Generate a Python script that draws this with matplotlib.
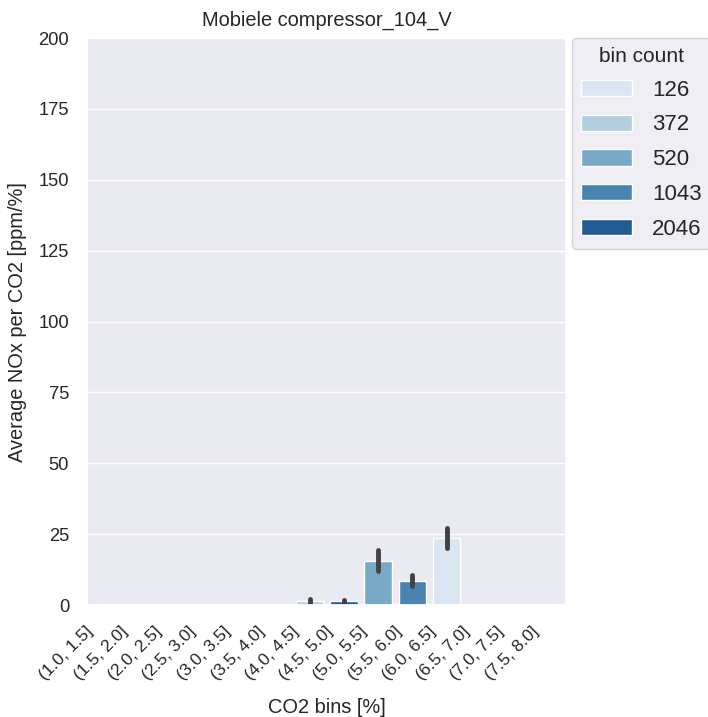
import numpy as np
import matplotlib
matplotlib.use("Agg")
import matplotlib.pyplot as plt
import matplotlib.patches as mpatches
import matplotlib.transforms as mtransforms
import seaborn as sns

# CO2 bins and per-bin average NOx/CO2 (empty bins have no data)
bins = ["(1.0, 1.5]", "(1.5, 2.0]", "(2.0, 2.5]", "(2.5, 3.0]", "(3.0, 3.5]",
        "(3.5, 4.0]", "(4.0, 4.5]", "(4.5, 5.0]", "(5.0, 5.5]", "(5.5, 6.0]",
        "(6.0, 6.5]", "(6.5, 7.0]", "(7.0, 7.5]", "(7.5, 8.0]"]
bar_bins = ["(4.0, 4.5]", "(4.5, 5.0]", "(5.0, 5.5]", "(5.5, 6.0]", "(6.0, 6.5]"]
bar_means = [1.4, 1.3, 15.4, 8.4, 23.8]
ci_low = [0.9, 0.8, 12.1, 6.8, 20.2]
ci_high = [2.0, 1.9, 19.4, 10.6, 27.3]
bar_counts = [372, 2046, 520, 1043, 126]
hue_order = [126, 372, 520, 1043, 2046]

sns.set_theme(style="darkgrid")
plt.rcParams['font.family'] = ['Liberation Sans', 'DejaVu Sans']

pal = sns.color_palette("Blues", len(hue_order))
pal = [sns.desaturate(c, 0.75) for c in pal]
cmap = dict(zip(hue_order, pal))

fig = plt.figure(figsize=(7.08, 7.17), dpi=100)
ax = fig.add_axes([0.123, 0.156, 0.677, 0.791])

x = np.arange(len(bins))
pos = [bins.index(b) for b in bar_bins]
ax.bar(pos, bar_means, width=0.8, color=[cmap[c] for c in bar_counts],
       edgecolor="white", linewidth=1)
ax.vlines(pos, ci_low, ci_high, color="#424242", linewidth=3.5, capstyle="round")

ax.set_xlim(-0.5, len(bins) - 0.5)
ax.set_ylim(0, 200)
ax.set_yticks(np.arange(0, 201, 25))
ax.set_xticks(x)
ax.set_xticklabels(bins, rotation=45, ha="right", fontsize=12.5)
ax.tick_params(axis="y", labelsize=13.2, pad=7)
ax.tick_params(axis="x", pad=5)
# nudge rotated labels left like the original
shift = mtransforms.ScaledTranslation(-0.08, -0.03, fig.dpi_scale_trans)
for lab in ax.get_xticklabels():
    lab.set_transform(lab.get_transform() + shift)
ax.grid(axis="x", visible=False)
ax.set_xlabel("CO2 bins [%]", fontsize=14.4, labelpad=11)
ax.set_ylabel("Average NOx per CO2 [ppm/%]", fontsize=14.4, labelpad=8)
ax.set_title("Mobiele compressor_104_V", fontsize=14.4, pad=9)

handles = [mpatches.Patch(facecolor=cmap[c], edgecolor="white") for c in hue_order]
leg = ax.legend(handles, [str(c) for c in hue_order], title="bin count",
                loc="upper left", bbox_to_anchor=(1.012, 1.0), fontsize=16,
                title_fontsize=15, borderaxespad=0, handlelength=2.3,
                handleheight=0.75, labelspacing=0.62, handletextpad=0.9)

fig.savefig("out.png", dpi=100)
